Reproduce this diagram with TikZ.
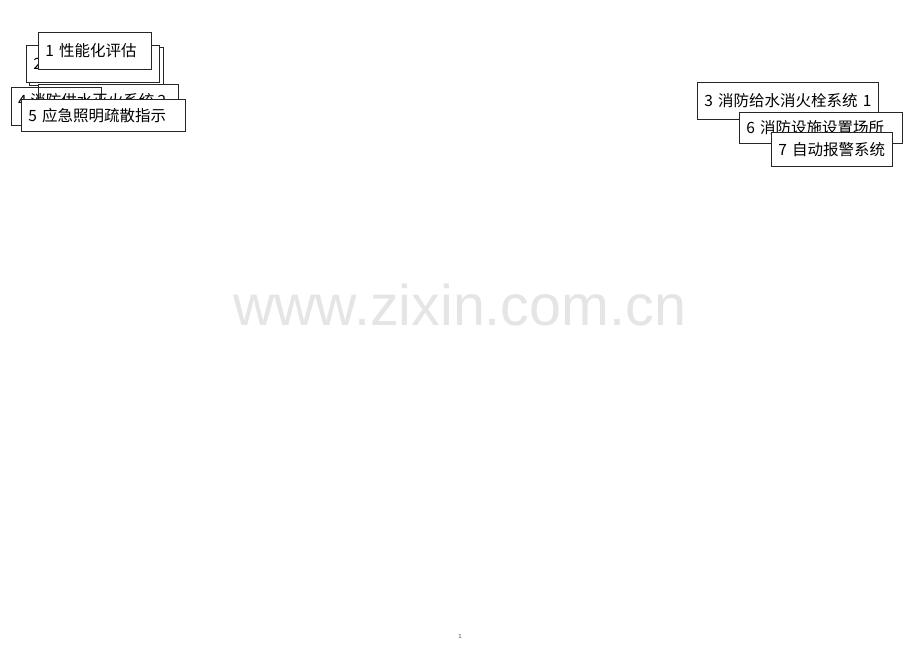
\documentclass[tikz,border=0pt]{standalone}
\usepackage{fontspec}
\setmainfont{Liberation Sans}
\newfontfamily\cjk{Noto Sans CJK SC}
\begin{document}
\begin{tikzpicture}[x=1pt,y=-1pt,
  box/.style={draw=black!85, line width=0.8pt, fill=white, anchor=north west,
    inner xsep=7pt, inner ysep=0pt, align=left,
    font=\cjk\fontsize{15.5}{18}\selectfont},
  boxtext/.style={anchor=west, inner sep=0pt, font=\cjk\fontsize{15.5}{18}\selectfont}]
\useasboundingbox[fill=white] (0,0) rectangle (920,650);
% watermark
\node[font=\fontsize{57.4}{60}\selectfont, text=black!10, anchor=base] (wm) at (459.5,325) {www.zixin.com.cn};
% page number
\node[font=\fontsize{6}{7}\selectfont, text=black!70] (pg) at (460,636) {1};
% left group
\node[box, text width=120pt, minimum height=38pt] (n2b) at (29,47) {};
\node[box, text width=119pt, minimum height=37pt] (n2) at (26,45) {2};
\node[box, text width=99pt, minimum height=37pt] (n1) at (38,32) {\mbox{1 性能化评估}};
\node[box, text width=126pt, minimum height=34pt] (n4b) at (38,84) {};
\node[box, fill=none, text width=76pt, minimum height=38pt] (n4) at (11,87) {};
\node[boxtext] (t4) at (18,101) {4 消防供水灭火系统 2};
\node[box, text width=150pt, minimum height=32pt] (n5) at (21,99) {\mbox{5 应急照明疏散指示}};
% right group
\node[box, text width=167pt, minimum height=37pt] (n3) at (697,82) {\mbox{3 消防给水消火栓系统 1}};
\node[box, text width=149pt, minimum height=31pt] (n6) at (739,112) {\mbox{6 消防设施设置场所}};
\node[box, text width=107pt, minimum height=34pt] (n7) at (771,132) {\mbox{7 自动报警系统}};
\end{tikzpicture}
\end{document}
